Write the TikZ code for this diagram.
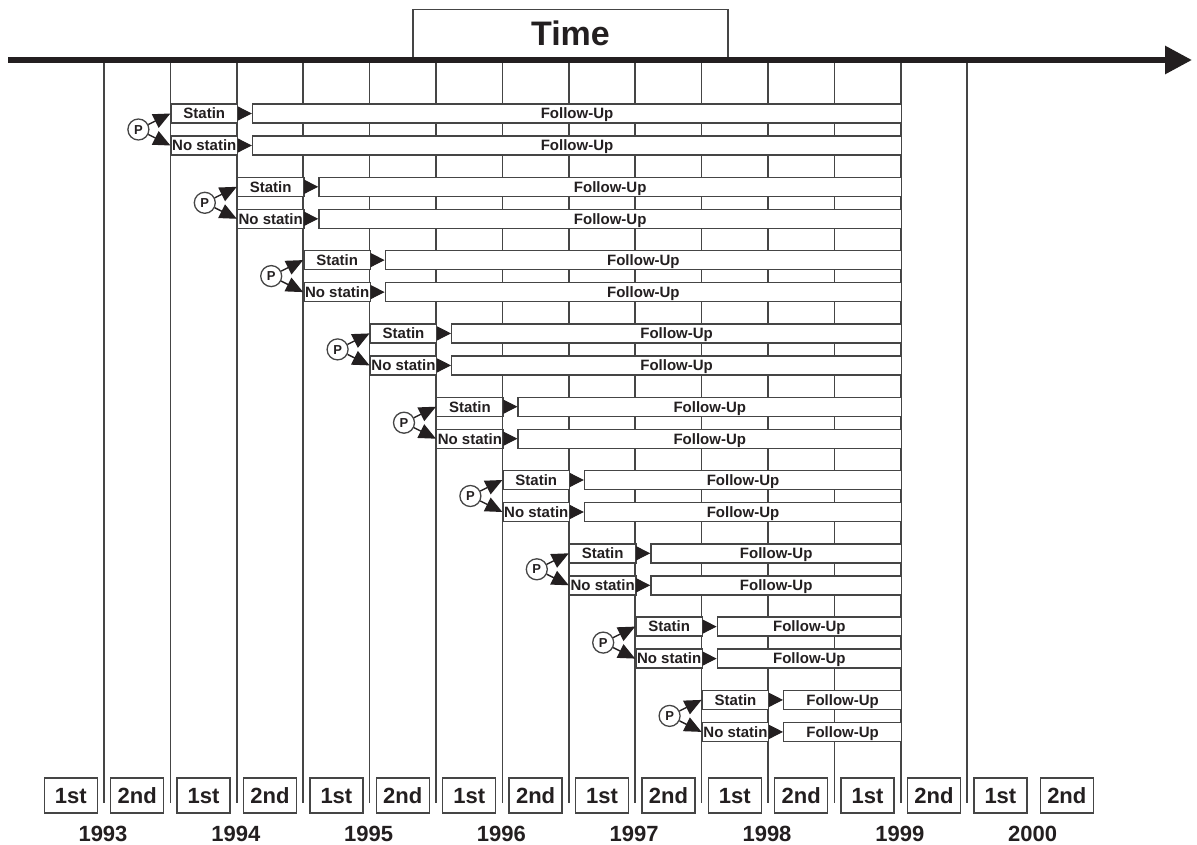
\documentclass[tikz,border=0pt]{standalone}
\usepackage{fontspec}
\setmainfont{Liberation Sans}
\usetikzlibrary{arrows.meta}
\definecolor{ink}{HTML}{231F20}
\definecolor{rulegray}{HTML}{454545}

\begin{document}
\begin{tikzpicture}[x=1pt,y=-1pt,
  every node/.style={text=ink},
  gridline/.style={draw=rulegray, line width=1.5pt},
  armbox/.style={draw=rulegray, fill=white, line width=1.4pt,
    minimum width=66.4pt, minimum height=19pt, inner sep=0pt,
    text height=10.7pt, text depth=0pt,
    font=\bfseries\fontsize{15}{15}\selectfont},
  fubox/.style={armbox},
  pnode/.style={circle, draw=rulegray, fill=white, line width=1.3pt,
    minimum size=21pt, inner sep=0pt, text height=9.3pt, text depth=0pt,
    font=\bfseries\fontsize{13}{13}\selectfont},
  parrow/.style={draw=ink, line width=1.4pt, -{Triangle[length=17pt,width=15pt]}},
  farrow/.style={draw=ink, line width=1pt, -{Triangle[length=14pt,width=14pt]}},
  halfbox/.style={draw=rulegray, line width=1.4pt, minimum width=53pt,
    minimum height=35pt, inner sep=0pt, text height=15.8pt, text depth=0pt,
    font=\bfseries\fontsize{22}{22}\selectfont},
  yearlab/.style={text height=15.8pt, text depth=0pt, inner sep=0pt,
    font=\bfseries\fontsize{22}{22}\selectfont},
  timebox/.style={draw=rulegray, fill=white, line width=1.4pt, minimum width=315pt,
    minimum height=49pt, inner sep=0pt, text height=24.4pt, text depth=0pt,
    font=\bfseries\fontsize{34}{34}\selectfont},
]
\useasboundingbox (0,0) rectangle (1197,845);
\fill[white] (0,0) rectangle (1197,845);

% half-year grid lines
\foreach \k in {0,...,13}{
  \draw[gridline] ({104+66.4*\k},63) -- ({104+66.4*\k},803);
}

% title box and time axis
\node[timebox, anchor=south] (time) at (570.5,59) {Time};
\coordinate (axL) at (8,60);
\coordinate (axR) at (1192,60);
\draw[draw=ink, line width=6pt, -{Triangle[length=27pt,width=27pt]}] (axL) -- (axR);

% one randomisation cohort per half-year
\foreach \k in {0,...,8}{
  \pgfmathsetmacro\xs{104+66.4*(\k+1)}
  \pgfmathsetmacro\xe{\xs+66.4+15}
  \pgfmathsetmacro\fw{900.8-\xe}
  \pgfmathsetmacro\ys{113.5+73.3*\k}
  \pgfmathsetmacro\yn{\ys+32}
  \node[armbox, anchor=west] (s\k) at (\xs,\ys) {Statin};
  \node[armbox, anchor=west] (n\k) at (\xs,\yn) {No statin};
  \node[fubox, anchor=west, minimum width=\fw pt] (fs\k) at (\xe,\ys) {Follow-Up};
  \node[fubox, anchor=west, minimum width=\fw pt] (fn\k) at (\xe,\yn) {Follow-Up};
  \node[pnode] (p\k) at (\xs-32,\ys+16) {P};
  \draw[parrow] (p\k) -- (s\k.west);
  \draw[parrow] (p\k) -- (n\k.west);
  \draw[farrow] (s\k.east) -- (fs\k.west);
  \draw[farrow] (n\k.east) -- (fn\k.west);
}

% half-year labels
\foreach \j in {0,...,15}{
  \node[halfbox] (h\j) at ({70.8+66.4*\j},795.5) {\ifodd\j\relax 2nd\else 1st\fi};
}

% year labels
\foreach \y [count=\i from 0] in {1993,...,2000}{
  \node[yearlab] (yr\y) at ({103+132.8*\i},834) {\y};
}
\end{tikzpicture}
\end{document}
